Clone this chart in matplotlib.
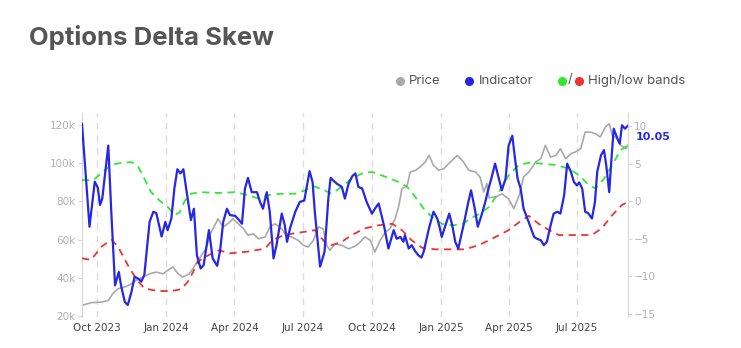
import numpy as np
import matplotlib
matplotlib.use("Agg")
import matplotlib.pyplot as plt
import matplotlib.dates as mdates

# ---- data (days counted from the first observation) ----
start_date = np.datetime64("2023-09-11")
end_day = 727

price_days = [0, 12, 26, 35, 41, 48, 57, 66, 72, 81, 90, 99, 108, 114, 121, 128, 134, 143,
              152, 159, 165, 172, 179, 181, 188, 194, 201, 208, 215, 221, 228, 235, 244, 250,
              257, 266, 272, 279, 288, 295, 301, 308, 315, 321, 326, 330, 337, 346, 355, 363,
              368, 377, 384, 390, 397, 404, 410, 417, 422, 426, 433, 437, 444, 450, 457, 462,
              468, 475, 482, 488, 495, 500, 508, 515, 524, 530, 535, 539, 542, 551, 559, 568,
              575, 582, 588, 595, 604, 611, 617, 624, 631, 637, 644, 651, 657, 664, 670, 677,
              684, 690, 697, 702, 706, 713, 717, 724, 727]
price_k = [25.6, 27.0, 27.3, 28.2, 31.7, 34.3, 35.2, 36.9, 38.7, 40.4, 42.1, 43.0, 42.1, 43.9,
           45.7, 42.1, 40.4, 42.1, 47.4, 51.8, 55.2, 64.0, 69.2, 70.9, 66.6, 68.3, 70.9, 68.3,
           65.7, 62.3, 63.1, 60.5, 61.4, 66.6, 68.3, 65.7, 62.3, 61.4, 59.6, 57.0, 56.1, 59.6,
           66.6, 65.7, 57.0, 54.4, 57.9, 57.0, 55.2, 56.5, 57.9, 61.4, 59.6, 53.5, 59.6, 64.0,
           65.7, 70.9, 78.0, 86.6, 88.4, 95.4, 96.3, 98.0, 100.6, 104.1, 98.9, 96.3, 97.2, 99.7,
           102.4, 104.1, 100.6, 96.3, 95.4, 92.8, 84.9, 89.3, 82.0, 82.3, 84.0, 81.4, 76.2, 83.2,
           92.8, 95.4, 100.6, 102.4, 109.4, 103.2, 104.1, 107.6, 102.4, 105.0, 105.9, 107.6,
           116.3, 116.3, 115.4, 113.7, 119.0, 120.7, 114.6, 112.8, 109.4, 107.6, 109.4]

indicator_days = [0, 10, 17, 21, 24, 27, 35, 39, 44, 49, 52, 57, 61, 66, 70, 75, 79, 83, 90,
                  95, 99, 106, 111, 114, 119, 123, 127, 131, 135, 140, 145, 149, 153, 158, 162,
                  169, 174, 180, 184, 188, 193, 197, 204, 209, 213, 217, 221, 226, 233, 237,
                  241, 246, 250, 255, 259, 266, 270, 273, 277, 284, 290, 296, 303, 307, 310,
                  317, 323, 328, 331, 339, 346, 350, 355, 360, 364, 368, 373, 379, 386, 390,
                  395, 402, 408, 415, 419, 424, 428, 430, 435, 439, 444, 448, 452, 455, 462,
                  468, 473, 476, 479, 484, 489, 493, 497, 501, 508, 514, 518, 523, 527, 532,
                  537, 540, 545, 550, 555, 559, 564, 568, 573, 576, 580, 584, 588, 593, 597,
                  602, 606, 611, 615, 619, 624, 628, 633, 637, 642, 646, 651, 655, 659, 662,
                  666, 670, 674, 679, 683, 686, 691, 695, 698, 702, 705, 708, 713, 716, 719,
                  723, 727]
indicator = [10.3, -3.4, 2.6, 1.8, -0.5, 0.35, 7.4, -1.4, -11.2, -9.4, -11.2, -13.4, -13.8,
             -12.0, -10.05, -10.3, -10.7, -9.8, -2.75, -1.4, -1.6, -4.7, -2.75, -3.85, -2.3,
             1.7, 4.25, 3.7, 4.25, 0.8, -2.5, -1.0, -7.2, -8.95, -8.5, -3.85, -7.6, -8.6, -6.5,
             -2.75, -1.0, -1.85, -1.95, -2.5, -3.0, 1.7, 3.1, 1.2, 1.2, -0.1, -1.0, 1.2, -1.4,
             -7.6, -5.85, -1.65, -3.2, -5.4, -3.6, -1.4, -0.1, 0.1, 4.0, 2.55, -1.4, -8.7, -6.7,
             0.35, 3.1, 2.35, 1.9, 0.35, 2.35, 3.35, 3.7, 1.9, 1.7, -0.1, -1.65, -1.0, -0.3,
             -3.2, -6.3, -3.85, -5.0, -4.75, -5.4, -4.5, -6.3, -5.85, -6.7, -7.2, -7.5, -6.7,
             -3.6, -1.4, -2.3, -3.4, -4.75, -3.2, -1.65, -3.2, -5.4, -6.3, -3.2, -0.3, 1.45,
             -1.0, -3.4, -1.85, -0.1, 1.2, 3.0, 5.0, 3.0, 1.45, 3.0, 7.4, 8.7, 6.1, 3.0, 1.7,
             -1.0, -2.3, -3.4, -4.75, -5.0, -5.2, -5.85, -5.4, -3.2, -1.65, -1.4, -1.65, 0.8,
             5.0, 3.9, 2.55, 2.1, 2.5, 1.7, -1.4, -1.6, -2.3, -0.1, 3.9, 6.1, 6.8, 4.8, 1.2,
             5.65, 9.65, 8.3, 7.65, 10.1, 9.65, 10.05]

high_band_days = [0, 15, 28, 39, 52, 66, 75, 83, 92, 103, 114, 123, 130, 137, 145, 159, 181,
                  204, 221, 235, 248, 266, 284, 297, 308, 323, 332, 346, 359, 373, 386, 404,
                  422, 433, 444, 455, 466, 479, 493, 506, 517, 530, 542, 555, 568, 582, 595,
                  613, 631, 648, 662, 675, 684, 695, 706, 717, 727]
high_band = [2.8, 2.8, 3.9, 4.85, 5.1, 5.2, 4.55, 3.0, 1.2, 0.1, -0.75, -1.85, -1.5, 0.1, 1.0,
             1.2, 1.1, 1.2, 0.8, 0.35, 0.8, 1.0, 1.0, 1.45, 2.0, 1.45, 1.0, 1.9, 3.0, 3.7, 3.9,
             3.25, 2.55, 1.9, 0.55, -1.0, -2.1, -3.0, -3.2, -3.1, -2.3, -1.65, -0.75, 1.2,
             3.45, 4.85, 5.1, 5.0, 4.8, 4.35, 3.45, 2.1, 1.7, 3.0, 4.8, 6.8, 7.4]

low_band_days = [0, 12, 26, 39, 48, 61, 72, 83, 101, 119, 132, 141, 148, 154, 168, 183, 195,
                 221, 244, 253, 270, 288, 310, 323, 332, 346, 359, 377, 395, 413, 426, 439,
                 453, 470, 493, 510, 528, 542, 568, 586, 595, 608, 622, 635, 657, 679, 692,
                 706, 719, 727]
low_band = [-7.6, -7.8, -6.05, -5.1, -6.05, -8.5, -10.3, -11.6, -11.95, -11.95, -11.7, -10.7,
            -9.4, -8.05, -7.2, -6.5, -6.95, -6.7, -6.3, -5.2, -4.45, -4.2, -3.85, -5.4, -5.85,
            -5.4, -4.5, -3.6, -3.2, -3.0, -3.85, -5.2, -6.2, -6.4, -6.4, -6.4, -5.85, -5.2,
            -3.85, -2.5, -1.95, -3.0, -3.85, -4.5, -4.5, -4.5, -3.6, -1.85, -0.5, -0.1]

last_value = indicator[-1]

price_ticks = [20, 40, 60, 80, 100, 120]
indicator_ticks = [-15, -10, -5, 0, 5, 10]

# ---- styling ----
GRAY = "#a9a9a9"
BLUE = "#2626e6"
GREEN = "#2fe82f"
RED = "#ee3333"
TICK_GRAY = "#b0b0b0"
SPINE_GRAY = "#d6d6d6"
TEXT = "#555555"


def to_dates(days):
    return start_date + np.array(days).astype("timedelta64[D]")


fig = plt.figure(figsize=(7.41, 3.48), dpi=100)
ax = fig.add_axes([82 / 741, 1 - 317 / 348, (628 - 82) / 741, (317 - 113) / 348])
ax2 = ax.twinx()

ax.plot(to_dates(price_days), price_k, color=GRAY, lw=1.2, zorder=2)

ax2.plot(to_dates(high_band_days), high_band, color=GREEN, lw=1.3, dashes=(4, 3))
ax2.plot(to_dates(low_band_days), low_band, color=RED, lw=1.3, dashes=(4, 3))
ax2.plot(to_dates(indicator_days), indicator, color=BLUE, lw=1.6)

ax.set_xlim(start_date, start_date + np.timedelta64(end_day, "D"))
ax.set_ylim(19.5, 126.3)
ax2.set_ylim(-15.4, 11.73)

ax.set_yticks(price_ticks)
ax.set_yticklabels([f"{v}k" for v in price_ticks])
ax2.set_yticks(indicator_ticks)
ax2.set_yticklabels([f"\u2212{abs(v)}" if v < 0 else f"{v}" for v in indicator_ticks])

ax.xaxis.set_major_locator(mdates.MonthLocator(bymonth=[1, 4, 7, 10]))
ax.xaxis.set_major_formatter(mdates.DateFormatter("%b %Y"))
ax.grid(axis="x", color="#dcdcdc", lw=1.0, dashes=(5, 4))

for a in (ax, ax2):
    for side in ("top", "bottom"):
        a.spines[side].set_visible(False)
ax.spines["right"].set_visible(False)
ax.spines["left"].set_color(SPINE_GRAY)
ax2.spines["left"].set_visible(False)
ax2.spines["right"].set_color(SPINE_GRAY)

ax.tick_params(axis="x", length=0, pad=4, labelsize=7.5, labelcolor="#444444")
ax.tick_params(axis="y", length=3, color=SPINE_GRAY, pad=1.5, labelsize=7.5, labelcolor=TICK_GRAY)
ax2.tick_params(axis="y", length=3, color=SPINE_GRAY, pad=1.5, labelsize=7.5, labelcolor=TICK_GRAY)

# value tag for the latest indicator reading
ax2.annotate(f"{last_value:.2f}", xy=(1.0, last_value), xycoords=("axes fraction", "data"),
             xytext=(5.5, -8.5), textcoords="offset points", color=BLUE, fontsize=8,
             fontweight="bold", va="center", ha="left")

# title
fig.text(29 / 741, 1 - 37 / 348, "Options Delta Skew", family="Inter", fontweight="bold",
         fontsize=18.5, color=TEXT, va="center", ha="left")

# legend row
leg_y = 1 - 80.5 / 348
legend_font = dict(family="Inter", fontsize=9.5, color=TEXT, va="center", ha="left")


def legend_dot(x_px, colour):
    fig.lines.append(plt.Line2D([x_px / 741], [leg_y], marker="o", ms=5.5, color=colour,
                                lw=0, transform=fig.transFigure))


legend_dot(399.5, GRAY)
fig.text(409 / 741, leg_y, "Price", **legend_font)
legend_dot(468.5, BLUE)
fig.text(479 / 741, leg_y, "Indicator", **legend_font)
legend_dot(562, GREEN)
fig.text(567.5 / 741, leg_y, "/", **legend_font)
legend_dot(579, RED)
fig.text(588 / 741, leg_y, "High/low bands", **legend_font)

fig.savefig("out.png", dpi=100, facecolor="white")
